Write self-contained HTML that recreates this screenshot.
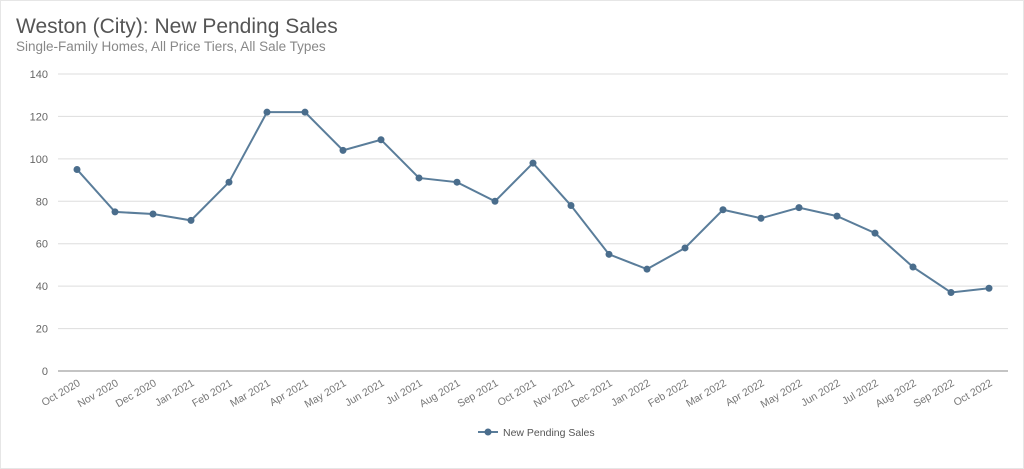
<!DOCTYPE html>
<html><head><meta charset="utf-8"><style>
html,body{margin:0;padding:0;background:#fff;width:1024px;height:469px;overflow:hidden;font-family:"Liberation Sans",sans-serif;}
#wrap{position:absolute;left:0;top:0;width:1022px;height:467px;border:1px solid #e6e6e6;}
#title{position:absolute;left:16px;top:15px;font-size:21px;color:#555;}
#sub{position:absolute;left:16px;top:39px;font-size:13.5px;color:#888;}
svg{position:absolute;left:0;top:0;}
</style></head><body>
<div id="wrap"></div>
<div id="title">Weston (City): New Pending Sales</div>
<div id="sub">Single-Family Homes, All Price Tiers, All Sale Types</div>
<svg id="chart" width="1024" height="469"></svg>
<script>
const categories=["Oct 2020","Nov 2020","Dec 2020","Jan 2021","Feb 2021","Mar 2021","Apr 2021","May 2021","Jun 2021","Jul 2021","Aug 2021","Sep 2021","Oct 2021","Nov 2021","Dec 2021","Jan 2022","Feb 2022","Mar 2022","Apr 2022","May 2022","Jun 2022","Jul 2022","Aug 2022","Sep 2022","Oct 2022"];
const values=[95,75,74,71,89,122,122,104,109,91,89,80,98,78,55,48,58,76,72,77,73,65,49,37,39];
const yTicks=[0,20,40,60,80,100,120,140];
const NS="http://www.w3.org/2000/svg";
const svg=document.getElementById('chart');
const x0=77,x1=989,yb=371,yt=74;
const xs=i=>x0+(x1-x0)*i/(categories.length-1);
const ys=v=>yb-(yb-yt)*v/140;
function mk(t,a){const e=document.createElementNS(NS,t);for(const k in a)e.setAttribute(k,a[k]);svg.appendChild(e);return e;}
yTicks.forEach(v=>{
  const l=mk('line',{x1:58,x2:1008,y1:ys(v),y2:ys(v),stroke:v===0?'#888':'#ddd','stroke-width':1});
  
  
  const t=mk('text',{x:48,y:ys(v)+4,'text-anchor':'end','font-size':11,fill:'#666'});
  t.textContent=v;
  
  
});
categories.forEach((c,i)=>{
  const t=mk('text',{x:xs(i)+4,y:yb+14,'text-anchor':'end','font-size':10.5,fill:'#777',transform:`rotate(-30 ${xs(i)+4} ${yb+14})`});
  t.textContent=c;
  
  
});
const p=mk('polyline',{points:values.map((v,i)=>xs(i)+','+ys(v)).join(' '),fill:'none',stroke:'#5a7d9a','stroke-width':2});


values.forEach((v,i)=>{
  const c=mk('circle',{cx:xs(i),cy:ys(v),r:3.5,fill:'#4a6d8c'});
  
  
});
const ll=mk('line',{x1:478,x2:498,y1:432,y2:432,stroke:'#5a7d9a','stroke-width':2});


const lc=mk('circle',{cx:488,cy:432,r:3.5,fill:'#4a6d8c'});


const lt=mk('text',{x:503,y:436,'font-size':10.5,fill:'#555'});
lt.textContent='New Pending Sales';


</script>
</body></html>
